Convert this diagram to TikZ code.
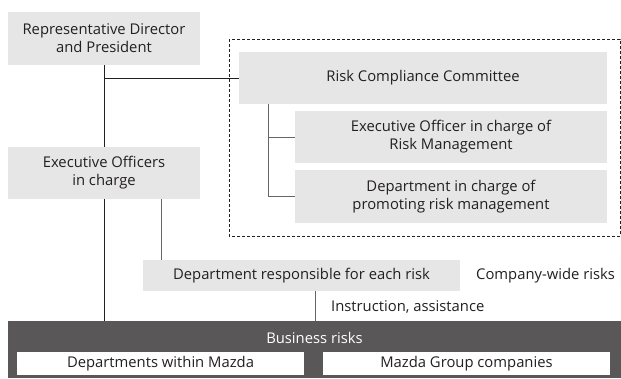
\documentclass[tikz,border=0pt]{standalone}
\usepackage{fontspec}
\setmainfont{Open Sans}
\usepackage{tikz}
\usetikzlibrary{positioning, arrows.meta}

\definecolor{boxgray}{HTML}{E6E6E6}
\definecolor{darkbox}{HTML}{595757}
\definecolor{inkgray}{HTML}{231F20}

\begin{document}
\begin{tikzpicture}[
    x=1pt, y=-1pt,
    font=\fontsize{14.8}{18}\selectfont,
    every node/.style={text=inkgray},
    unit/.style={fill=boxgray, align=center, inner sep=0pt},
    link/.style={draw=inkgray, line width=0.9pt},
    sublink/.style={draw=black!60, line width=0.9pt},
    plain/.style={inner sep=0pt, anchor=west}
]
\useasboundingbox (0,0) rectangle (621,378);

% Management boxes
\node[unit, minimum width=192pt, minimum height=53pt] (rdp) at (104,38.5) {Representative Director\\and President};
\node[unit, minimum width=192pt, minimum height=52pt] (eo) at (104,173) {Executive Officers\\in charge};

% Committee block
\draw[inkgray, line width=1pt, dash pattern=on 3pt off 2pt] (229,39) rectangle (620,236);
\node[unit, minimum width=368pt, minimum height=52pt] (rcc) at (423,78) {Risk Compliance Committee};
\node[unit, minimum width=312pt, minimum height=52pt] (eorm) at (451,137) {Executive Officer in charge of\\Risk Management};
\node[unit, minimum width=312pt, minimum height=53pt] (dp) at (451,196.5) {Department in charge of\\promoting risk management};

% Department responsible
\node[unit, minimum width=317pt, minimum height=31pt] (dr) at (301.5,275.5) {Department responsible for each risk};
\node[plain] (cwr) at (476,276) {Company-wide risks};
\node[plain] (instr) at (331,307) {Instruction, assistance};

% Business risks
\node[fill=darkbox, minimum width=613pt, minimum height=57pt, inner sep=0pt] (biz) at (314.5,349.5) {};
\node[text=white, inner sep=0pt] (bizlabel) at (314.5,338) {Business risks};
\node[fill=white, minimum width=287pt, minimum height=23pt, inner sep=0pt] (mazda) at (160.5,363.5) {Departments within Mazda};
\node[fill=white, minimum width=287pt, minimum height=23pt, inner sep=0pt] (group) at (466.5,363.5) {Mazda Group companies};

% Connectors
\draw[link] (rdp.south) -- (eo.north);
\draw[link] (rcc.west -| rdp.south) -- (rcc.west);
\coordinate (rccstem) at ([xshift=30pt]rcc.south west);
\draw[sublink] (rccstem) |- (dp.west);
\draw[sublink] (rccstem |- eorm.west) -- (eorm.west);
\draw[link] (eo.south) -- (eo.south |- biz.north);
\coordinate (eostem) at ([xshift=-39pt]eo.south east);
\draw[sublink] (eostem) -- (eostem |- dr.north);
\coordinate (drstem) at ([xshift=13.5pt]dr.south);
\draw[sublink] (drstem) -- (drstem |- biz.north);

\end{tikzpicture}
\end{document}
